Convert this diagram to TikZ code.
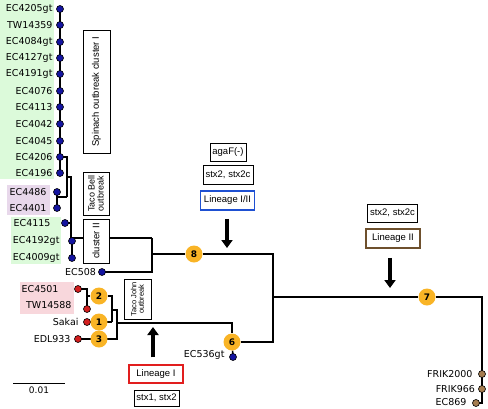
\documentclass[tikz,border=0pt]{standalone}
\usepackage{fontspec}
\setmainfont{DejaVu Sans}
\newfontfamily\boxfont{Liberation Sans}
\usepackage{tikz}
\usetikzlibrary{calc}
\usetikzlibrary{arrows.meta,backgrounds,positioning}
\definecolor{spinachbg}{RGB}{220,250,218}
\definecolor{tacobellbg}{RGB}{232,216,235}
\definecolor{lineonebg}{RGB}{248,215,220}
\definecolor{dotblue}{RGB}{20,20,160}
\definecolor{dotred}{RGB}{210,30,30}
\definecolor{dotbrown}{RGB}{165,125,80}
\definecolor{nodeorange}{RGB}{249,180,38}
\definecolor{boxred}{RGB}{225,30,30}
\definecolor{boxblue}{RGB}{30,80,210}
\definecolor{boxbrown}{RGB}{110,80,45}
\tikzset{
  leaf/.style={circle,draw=black,line width=0.6pt,fill=dotblue,inner sep=0pt,minimum size=7pt},
  redleaf/.style={leaf,fill=dotred},
  brownleaf/.style={leaf,fill=dotbrown},
  tag/.style={inner sep=0.5pt,font=\fontsize{9.5}{11}\selectfont},
  inode/.style={circle,fill=nodeorange,inner sep=0pt,minimum size=17pt,font=\fontsize{9}{10}\selectfont\bfseries},
  note/.style={draw=black,fill=white,line width=0.8pt,inner sep=2.5pt,minimum height=18pt,font=\boxfont\fontsize{9.5}{10}\selectfont},
  lineage/.style={note,line width=1.5pt,minimum width=54pt,minimum height=19pt},
  branch/.style={line width=1.6pt},
  bigarrow/.style={line width=4pt,-{Triangle[length=8pt,width=11pt]}}
}

\begin{document}
\begin{tikzpicture}[x=1pt,y=-1pt]
        \useasboundingbox (0,0) rectangle (488,408);
        % leaves
        \node[leaf] (s1)  at (60,9)   {};
        \node[leaf] (s2)  at (60,25)  {};
        \node[leaf] (s3)  at (60,42)  {};
        \node[leaf] (s4)  at (60,58)  {};
        \node[leaf] (s5)  at (60,74)  {};
        \node[leaf] (s6)  at (60,91)  {};
        \node[leaf] (s7)  at (60,107) {};
        \node[leaf] (s8)  at (60,124) {};
        \node[leaf] (s9)  at (60,141) {};
        \node[leaf] (s10) at (60,157) {};
        \node[leaf] (s11) at (60,173) {};
        \node[leaf] (p1)  at (57,192) {};
        \node[leaf] (p2)  at (57,208) {};
        \node[leaf] (c1)  at (65,223) {};
        \node[leaf] (c2)  at (72,241) {};
        \node[leaf] (c3)  at (72,258) {};
        \node[leaf] (e508) at (102,272) {};
        \node[redleaf] (r1) at (78,289) {};
        \node[redleaf] (r2) at (87,309) {};
        \node[redleaf] (r3) at (87,322) {};
        \node[redleaf] (r4) at (78,339) {};
        \node[leaf] (e536) at (233,357) {};
        \node[brownleaf] (f1) at (482,374) {};
        \node[brownleaf] (f2) at (482,389) {};
        \node[brownleaf] (f3) at (476,403) {};

        \node[tag,left=3pt of s1]  (ls1)  {EC4205gt};
        \node[tag,left=3pt of s2]  (ls2)  {TW14359};
        \node[tag,left=3pt of s3]  (ls3)  {EC4084gt};
        \node[tag,left=3pt of s4]  (ls4)  {EC4127gt};
        \node[tag,left=3pt of s5]  (ls5)  {EC4191gt};
        \node[tag,left=3pt of s6]  (ls6)  {EC4076};
        \node[tag,left=3pt of s7]  (ls7)  {EC4113};
        \node[tag,left=3pt of s8]  (ls8)  {EC4042};
        \node[tag,left=3pt of s9]  (ls9)  {EC4045};
        \node[tag,left=3pt of s10] (ls10) {EC4206};
        \node[tag,left=3pt of s11] (ls11) {EC4196};
        \node[tag,left=6pt of p1]  (lp1)  {EC4486};
        \node[tag,left=6pt of p2]  (lp2)  {EC4401};
        \node[tag,left=10pt of c1] (lc1)  {EC4115};
        \node[tag,left=8pt of c2]  (lc2)  {EC4192gt};
        \node[tag,left=8pt of c3]  (lc3)  {EC4009gt};
        \node[tag,left=1.5pt of e508] (le508) {EC508};
        \node[tag,left=15pt of r1] (lr1)  {EC4501};
        \node[tag,left=11pt of r2,yshift=4pt] (lr2) {TW14588};
        \node[tag,left=4pt of r3]  (lr3)  {Sakai};
        \node[tag,left=3pt of r4]  (lr4)  {EDL933};
        \node[tag,left=4pt of e536,yshift=2pt] (le536) {EC536gt};
        \node[tag,left=5pt of f1]  (lf1)  {FRIK2000};
        \node[tag,left=2.5pt of f2] (lf2) {FRIK966};
        \node[tag,left=5pt of f3,yshift=1pt]  (lf3)  {EC869};

        % numbered nodes
        \node[inode] (n2) at (99,296)  {2};
        \node[inode] (n1) at (99,322)  {1};
        \node[inode] (n3) at (99,339)  {3};
        \node[inode] (n6) at (232,342) {6};
        \node[inode] (n8) at (194,254) {8};
        \node[inode] (n7) at (427,297) {7};

        \coordinate (jP) at (67,197);
        \coordinate (jA) at (67,177);
        \coordinate (jC) at (71,238);
        \coordinate (jK) at (152,238);
        \coordinate (jR) at (273,297);
        \coordinate (jF) at (482,297);
        \coordinate (jE) at (482,403);
        \coordinate (jB) at (112,322);
        \coordinate (jL) at (117,310);
        \coordinate (jM) at (117,323);

        \begin{pgfonlayer}{background}
          \fill[spinachbg]  (0,0) rectangle (54,179);
          \fill[tacobellbg] (7,185) rectangle (50,215);
          \fill[spinachbg]  (11,217) rectangle (61,264);
          \fill[lineonebg]  (20,282) rectangle (74,314);
          \draw[branch] (s1.center) -- (s11.center);
          \draw[branch] (s10.center) -| (jP);
          \draw[branch] (p1.center) -- (p2.center);
          \draw[branch] (jP) -- (p1.center |- jP);
          \draw[branch] (jA) -| (jC);
          \draw[branch] (c1.center) -| (jC);
          \draw[branch] (jC -| c2) -- (c3.center);
          \draw[branch] (jC) -- (jK);
          \draw[branch] (e508.center) -| (jK);
          \draw[branch] (jK |- n8) -- (n8);
          \draw[branch] (n8) -| (jR);
          \draw[branch] (n6) -| (jR);
          \draw[branch] (jR) -- (n7) -- (jF) -- (jE) -- (f3.center);
          \draw[branch] (r1.center) -| (r2.center);
          \draw[branch] (r2.center |- n2) -- (n2) -| (jB);
          \draw[branch] (r3.center) -- (jB);
          \draw[branch] (jB |- jL) -- (jL) |- (r4.center);
          \draw[branch] (jM) -| (n6);
          \draw[branch] (n6) -- (e536.center);
        \end{pgfonlayer}

        % outbreak boxes
        \node[note,rotate=90,minimum width=123pt,minimum height=27pt] (spinach) at (96.5,91.5) {Spinach outbreak cluster I};
        \node[note,rotate=90,minimum width=43pt,minimum height=26pt,align=center,font=\boxfont\fontsize{9}{9}\selectfont] (tacobell) at (96,193.5) {Taco Bell\\outbreak};
        \node[note,rotate=90,minimum width=44pt,minimum height=26pt] (clustertwo) at (96,241) {cluster II};
        \node[note,rotate=90,minimum width=40pt,minimum height=27pt,align=center,font=\boxfont\fontsize{7.5}{7.5}\selectfont] (tacojohn) at (137.5,299) {Taco John\\outbreak};

        \node[note] (agaF) at (228,152) {agaF(-)};
        \node[note,minimum height=19pt] (stxmid) at (228,174.5) {stx2, stx2c};
        \node[lineage,draw=boxblue] (linonetwo) at (227.5,200.5) {Lineage I/II};
        \node[note,minimum height=18pt] (stxright) at (392.5,213) {stx2, stx2c};
        \node[lineage,draw=boxbrown] (lintwo) at (393,238.5) {Lineage II};
        \node[lineage,draw=boxred,minimum height=18pt] (linone) at (156,374) {Lineage I};
        \node[note,minimum height=16pt] (stxone) at (156.5,398) {stx1, stx2};

        \coordinate (tipI) at (153,327);
        \coordinate (tipII) at (227,248);
        \coordinate (tipIII) at (390,288);
        \draw[bigarrow,shorten <=7pt] (linone.north -| tipI) -- (tipI);
        \draw[bigarrow,shorten <=8pt] (linonetwo.south -| tipII) -- (tipII);
        \draw[bigarrow,shorten <=9pt] (lintwo.south -| tipIII) -- (tipIII);

        % scale bar
        \coordinate (sbl) at (13,383);
        \coordinate (sbr) at (65,383);
        \draw[line width=1pt] (sbl) -- (sbr) node[midway,below=3pt,inner sep=0pt,font=\fontsize{9}{10}\selectfont] (sbtxt) {0.01};
\end{tikzpicture}
\end{document}
